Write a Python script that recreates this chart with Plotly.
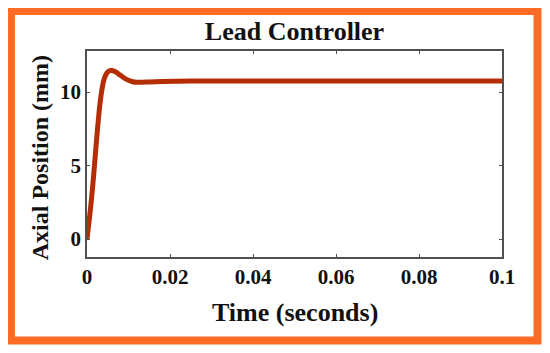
import plotly.graph_objects as go

# Data
time_s = [0, 0.0005, 0.001, 0.0015, 0.002, 0.0025, 0.003, 0.0035, 0.004, 0.0045,
          0.005, 0.0055, 0.006, 0.0065, 0.007, 0.008, 0.009, 0.010, 0.011, 0.012,
          0.013, 0.015, 0.018, 0.025, 0.05, 0.1]
position_mm = [0, 1.2, 2.5, 4.0, 5.7, 7.4, 8.9, 10.0, 10.75, 11.15,
               11.36, 11.45, 11.46, 11.42, 11.35, 11.15, 10.95, 10.8, 10.7, 10.66,
               10.66, 10.69, 10.72, 10.75, 10.75, 10.75]
x_ticks = [0, 0.02, 0.04, 0.06, 0.08, 0.1]
x_tick_labels = ["0", "0.02", "0.04", "0.06", "0.08", "0.1"]
y_ticks = [0, 5, 10]
y_tick_labels = ["0", "5", "10"]

FONT = "Liberation Serif, Times New Roman, serif"
AXC = "#505050"

fig = go.Figure()
fig.add_trace(go.Scatter(
    x=time_s, y=position_mm, mode="lines",
    line=dict(color="#B42D05", width=5, shape="spline", smoothing=0.6),
    hoverinfo="skip", showlegend=False,
))

axis_common = dict(
    showline=True, linecolor=AXC, linewidth=1.5, mirror="ticks",
    ticks="inside", ticklen=3, tickcolor=AXC, tickwidth=1,
    showgrid=False, zeroline=False,
    tickfont=dict(family=FONT, size=21, color="#111", weight="bold"),
)

W, H = 542, 345
fig.update_layout(
    width=W, height=H,
    margin=dict(l=79, r=48, t=43, b=96),
    paper_bgcolor="white", plot_bgcolor="white",
    title=dict(text="Lead Controller", x=0.5, xref="paper", xanchor="center",
               y=1 - 23 / H, yref="container", yanchor="middle",
               font=dict(family=FONT, size=26, color="#111", weight="bold")),
    xaxis=dict(range=[0, 0.1], tickvals=x_ticks, ticktext=x_tick_labels, **axis_common),
    yaxis=dict(range=[-1.22, 12.79], tickvals=y_ticks, ticktext=y_tick_labels, **axis_common),
    annotations=[
        dict(text="Time (seconds)", xref="paper", yref="paper", x=0.5, y=-0.267,
             xanchor="center", yanchor="middle", showarrow=False,
             font=dict(family=FONT, size=26, color="#111", weight="bold")),
        dict(text="Axial Position (mm)", xref="paper", yref="paper", x=-0.113, y=0.48,
             xanchor="center", yanchor="middle", showarrow=False, textangle=-90,
             font=dict(family=FONT, size=24, color="#111", weight="bold")),
    ],
    shapes=[
        dict(type="rect", xref="paper", yref="paper",
             x0=(11 - 87) / 415, x1=(537.5 - 87) / 415,
             y0=(257 - 340.5) / 206, y1=(257 - 11) / 206,
             line=dict(color="#FF6A24", width=8), fillcolor="rgba(0,0,0,0)", layer="above"),
    ],
)

fig.write_html("out.html")
